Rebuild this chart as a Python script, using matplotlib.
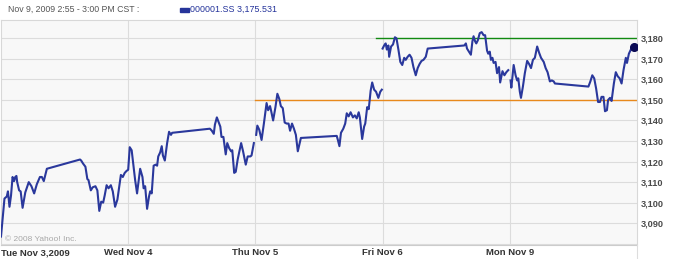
import numpy as np
import matplotlib
matplotlib.use("Agg")
import matplotlib.pyplot as plt
from matplotlib.patches import Rectangle
from matplotlib.lines import Line2D

# percek a nyitástól (9:30), napi 330 perc a megjelenítésben
day_labels = ["Tue Nov 3,2009", "Wed Nov 4", "Thu Nov 5", "Fri Nov 6", "Mon Nov 9"]
day_len = 330

tue_t = [0, 9, 15, 18, 22, 26, 30, 34, 37, 40, 42, 47, 51, 56, 63, 72, 79, 86, 93, 101,
         106, 111, 119, 205, 208, 213, 219, 224, 227, 233, 238, 245, 250, 255, 260, 265,
         269, 274, 279, 285, 290, 296, 302, 311, 316, 321, 326]
tue_p = [3083.5, 3102, 3103, 3105.5, 3098, 3103.5, 3112.5, 3110.5, 3112.5, 3113, 3110,
         3106, 3105.5, 3097.5, 3105, 3110, 3108, 3104.5, 3109, 3112.5, 3112.5, 3110.5,
         3116.5, 3121, 3120.5, 3119, 3117.5, 3111.5, 3111, 3106, 3107.5, 3108, 3106,
         3096, 3100.5, 3100, 3103.5, 3108.5, 3107, 3108.5, 3105.5, 3098, 3101.5, 3113.5,
         3112.5, 3114.5, 3115.5]

wed_t = [0, 4, 9, 14, 18, 23, 31, 37, 40, 44, 49, 54, 57, 61, 66, 71, 75, 78, 83, 87,
         90, 95, 101, 106, 111, 114, 212, 217, 222, 225, 230, 235, 239, 242, 247, 253,
         257, 262, 267, 270, 275, 279, 284, 289, 293, 298, 305, 310, 317, 320, 326]
wed_p = [3116, 3127, 3125.5, 3117.5, 3111, 3104.5, 3116.5, 3112.5, 3107, 3108, 3097,
         3103, 3105.5, 3104.5, 3118, 3118.5, 3118, 3122.5, 3124.5, 3127.5, 3123, 3120.5,
         3129, 3134.5, 3133, 3134, 3136, 3135, 3133.5, 3138, 3141.5, 3139, 3137, 3132,
         3132, 3123.5, 3129, 3126.5, 3125, 3125.5, 3114.5, 3115, 3121, 3125.5, 3129,
         3125, 3118.5, 3122.5, 3122.5, 3123, 3129]

thu_t = [2, 5, 10, 16, 22, 29, 33, 38, 41, 46, 52, 57, 62, 66, 71, 76, 81, 86, 90, 95,
         100, 105, 110, 118, 211, 214, 218, 222, 228, 233, 237, 242, 247, 253, 258, 263,
         268, 271, 277, 282, 285, 290, 294, 299, 303, 308, 313, 319, 324, 328]
thu_p = [3133, 3137.5, 3135.5, 3130.5, 3138.5, 3148.5, 3145, 3147, 3144.5, 3140, 3146.5,
         3153, 3150.5, 3147, 3146, 3139, 3138.5, 3138.5, 3135, 3138.5, 3136, 3133, 3125,
         3131.5, 3132.5, 3130.5, 3127.5, 3134, 3136, 3138.5, 3143.5, 3142, 3144, 3141.5,
         3142.5, 3141, 3144, 3141.5, 3131, 3137, 3138.5, 3146.5, 3145.5, 3154.5, 3158.5,
         3155, 3154, 3151, 3154, 3155]

fri_t = [0, 4, 8, 11, 15, 17, 22, 27, 32, 36, 41, 46, 51, 56, 60, 65, 70, 75, 80, 86,
         91, 96, 101, 106, 112, 117, 212, 216, 219, 224, 229, 233, 236, 240, 243, 247,
         252, 257, 262, 266, 271, 274, 278, 281, 285, 288, 293, 297, 302, 305, 311, 316,
         321, 326]
fri_p = [3175, 3176.5, 3177.5, 3174.5, 3176.5, 3171, 3176, 3177, 3180.5, 3180, 3174.5,
         3168.5, 3167, 3170.5, 3169.5, 3171, 3172, 3170.5, 3166, 3162, 3165.5, 3167.5,
         3169, 3169.5, 3171, 3175, 3176.5, 3177.5, 3175, 3173.5, 3172, 3178.5, 3181,
         3178.5, 3177.5, 3179, 3182.5, 3183, 3181.5, 3181.5, 3174, 3172.5, 3173.5,
         3169.5, 3170.5, 3168, 3168.5, 3163, 3166, 3158.5, 3164, 3162, 3163.5, 3164.5]

mon_t = [2, 4, 10, 15, 19, 22, 26, 29, 34, 39, 45, 50, 55, 60, 65, 71, 76, 81, 88, 93,
         98, 104, 109, 114, 117, 204, 209, 214, 219, 224, 229, 234, 238, 243, 247, 252,
         255, 260, 264, 270, 275, 280, 285, 290, 295, 301, 304, 309, 314, 319, 323]
mon_p = [3159.5, 3156, 3167, 3162, 3159.5, 3160.5, 3154, 3151, 3156.5, 3163, 3169,
         3167.5, 3165.5, 3169.5, 3170.5, 3176, 3173, 3170.5, 3168.5, 3165.5, 3163.5,
         3159, 3159.5, 3159, 3158, 3156.5, 3159, 3162, 3160.5, 3155.5, 3149, 3149,
         3151.5, 3151.5, 3144.5, 3145, 3150, 3151, 3149.5, 3158, 3163.5, 3161.5, 3160.5,
         3158, 3164.5, 3170.5, 3168, 3172.5, 3174.5, 3176, 3175.531]

days_t = [tue_t, wed_t, thu_t, fri_t, mon_t]
days_p = [tue_p, wed_p, thu_p, fri_p, mon_p]
gap_before = [False, False, True, True, True]

y_ticks = [3090, 3100, 3110, 3120, 3130, 3140, 3150, 3160, 3170, 3180]
grid_levels = [3080] + y_ticks
orange_level, orange_from = 3150, 2 * day_len
green_level, green_from = 3180, 2 * day_len + 313

header = "Nov 9, 2009 2:55 - 3:00 PM CST :"
symbol = "000001.SS"
last_price = 3175.531

# adatsor összefűzése, szünetek NaN-nal
xs, ys = [], []
for d in range(len(days_t)):
    if gap_before[d]:
        xs.append(np.nan)
        ys.append(np.nan)
    xs += [d * day_len + t for t in days_t[d]]
    ys += days_p[d]

plt.rcParams["font.family"] = ["Liberation Sans", "DejaVu Sans"]

fig = plt.figure(figsize=(6.75, 2.59), dpi=100)
W, H = 675, 259
ax = fig.add_axes([1 / W, 1 - 245 / H, 636 / W, 225 / H])
ax.set_facecolor("#f8f8f8")

ax.set_xlim(0, 5 * day_len)
ax.set_ylim(3079.4, 3188.9)

for g in grid_levels:
    ax.axhline(g, color="#dcdcdc", lw=0.8, zorder=1)
for d in range(1, 5):
    ax.axvline(d * day_len, color="#dcdcdc", lw=0.8, zorder=1)

ax.plot([orange_from, 5 * day_len], [orange_level, orange_level], color="#e8891c", lw=1.0, zorder=2)
ax.plot([green_from, 5 * day_len], [green_level, green_level], color="#118a11", lw=1.0, zorder=2)

ax.plot(xs, ys, color="#2a389c", lw=1.5, zorder=3)
ax.plot(xs[-1], ys[-1], "o", color="#0b0b55", ms=5.5, zorder=4)

ax.yaxis.tick_right()
ax.set_yticks(y_ticks)
ax.set_yticklabels([f"{v:,}" for v in y_ticks], fontsize=6.6, fontweight="bold", color="#4a4a4a")
ax.tick_params(axis="y", length=0, pad=3)

ax.set_xticks([d * day_len for d in range(5)])
ax.set_xticklabels(day_labels, fontsize=6.8, fontweight="bold", color="#333333")
ax.tick_params(axis="x", length=0, pad=2.5)
ax.get_xticklabels()[0].set_ha("left")

for s in ["top", "left", "right"]:
    ax.spines[s].set_color("#d8d8d8")
    ax.spines[s].set_linewidth(0.8)
ax.spines["bottom"].set_color("#cccccc")
ax.spines["bottom"].set_linestyle((0, (2, 1)))
ax.spines["bottom"].set_linewidth(0.8)

ax.text(0.006, 0.01, "© 2008 Yahoo! Inc.", transform=ax.transAxes,
        fontsize=6, color="#a8a8a8", va="bottom", ha="left")

# fejléc
fig.text(8 / W, 1 - 9.5 / H, header, fontsize=6.3, color="#555555", va="center", ha="left")
fig.patches.append(Rectangle((180 / W, 1 - 11.5 / H), 9 / W, 4 / H,
                             transform=fig.transFigure, color="#26349a"))
fig.text(190.5 / W, 1 - 9.5 / H, f"{symbol} {last_price:,.3f}", fontsize=6.4,
         color="#23329a", va="center", ha="left")

fig.lines.append(Line2D([637 / W, 637 / W], [0, 1 - 245 / H], transform=fig.transFigure,
                        color="#dddddd", lw=0.8))

plt.savefig("out.png", dpi=100)
plt.close()
